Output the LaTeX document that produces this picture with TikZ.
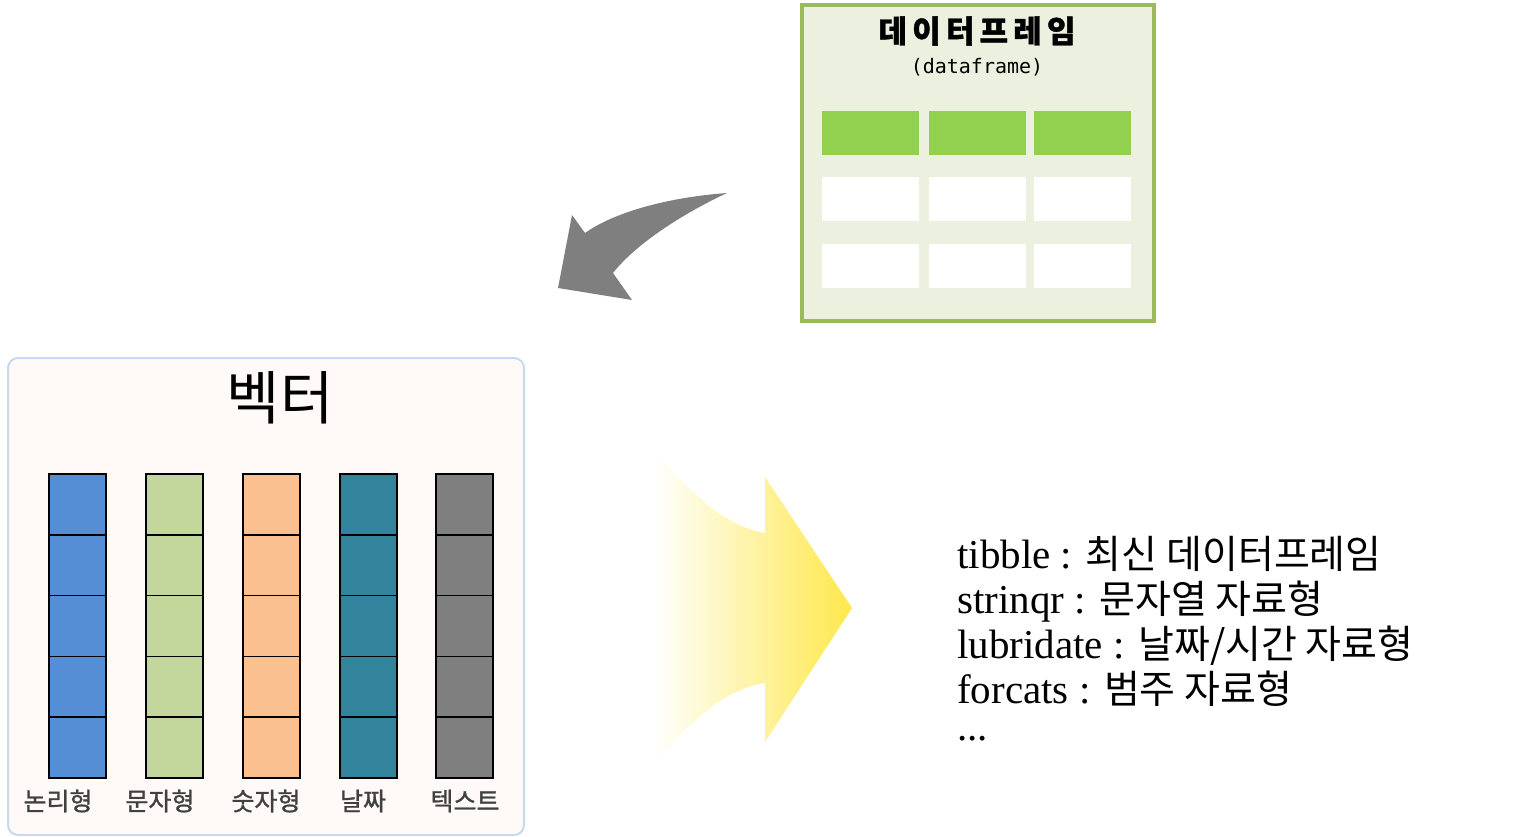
\documentclass[tikz,border=0pt]{standalone}
\usepackage{fontspec}
\setmainfont{Liberation Serif}
\newfontfamily\kr{Noto Sans CJK KR}
\newfontfamily\krb{Noto Sans CJK KR}[FakeBold=1.2]
\newfontfamily\mono{DejaVu Sans Mono}
\definecolor{dfborder}{HTML}{9BBB59}
\definecolor{dffill}{HTML}{EBF1DE}
\definecolor{dfhead}{HTML}{92D050}
\definecolor{vecborder}{HTML}{C6D9F1}
\definecolor{vecfill}{HTML}{FFFAF7}
\definecolor{cblue}{HTML}{558ED5}
\definecolor{cgreen}{HTML}{C3D69B}
\definecolor{corange}{HTML}{FAC090}
\definecolor{cteal}{HTML}{31849B}
\definecolor{cgray}{HTML}{7F7F7F}
\definecolor{lbl}{HTML}{404040}
\definecolor{yel}{HTML}{FFE84C}
\tikzset{
  cellbox/.style={draw=black, line width=1.5pt},
  lbltext/.style={font=\krb\fontsize{25}{28}\selectfont, text=lbl},
  infoline/.style={font=\fontsize{41}{45}\selectfont, anchor=base west, inner sep=0pt},
}
\newcommand{\K}[1]{{\kr\fontsize{39}{45}\selectfont #1}}
\begin{document}
\begin{tikzpicture}[x=1pt,y=-1pt]
\useasboundingbox (0,0) rectangle (1520,837);
% dataframe box
\node[draw=dfborder, line width=4pt, fill=dffill, minimum width=352pt, minimum height=316pt, inner sep=0pt] (df) at (978,163) {};
\node[font=\krb\bfseries\fontsize{31}{34}\selectfont] (dftitle) at (977,31) {데\,이\,터\,프\,레\,임};
\node[font=\mono\fontsize{20}{24}\selectfont] (dfsub) at (977,67) {(dataframe)};
\foreach \x/\n in {870.5/a,977/b,1082.5/c}{
  \fill[dfhead] (\x-48.5,111) rectangle (\x+48.5,155);
  \fill[white] (\x-48.5,177) rectangle (\x+48.5,221);
  \fill[white] (\x-48.5,244) rectangle (\x+48.5,288);
}
% curved gray arrow
\fill[cgray] (727,193) .. controls (660,198) and (610,215) .. (585,233)
  -- (572,215) -- (558,288) -- (632,300) -- (613,273)
  .. controls (635,245) and (680,215) .. (727,193) -- cycle;
% vector box
\node[draw=vecborder, line width=2pt, fill=vecfill, rounded corners=10pt, minimum width=516pt, minimum height=477pt, inner sep=0pt] (vec) at (266,596.5) {};
\node[font=\kr\fontsize{58}{62}\selectfont] (vectitle) at (280,398) {벡터};
\foreach \x/\c in {77.5/cblue,174.5/cgreen,271.5/corange,368.5/cteal,464.5/cgray}{
  \foreach \k in {0,...,4}{
    \draw[cellbox, fill=\c] (\x-28.5,474+\k*60.8) rectangle (\x+28.5,474+\k*60.8+60.8);
  }
}
\node[lbltext] (l1) at (58,801) {논리형};
\node[lbltext] (l2) at (160,801) {문자형};
\node[lbltext] (l3) at (266,801) {숫자형};
\node[lbltext] (l4) at (363,801) {날짜};
\node[lbltext] (l5) at (465,801) {텍스트};
% yellow arrow
\shade[left color=white, right color=yel, draw=none]
  (653,450) .. controls (690,490) and (720,525) .. (765,533)
  -- (765,477) -- (852,608) -- (765,742) -- (765,683)
  .. controls (720,690) and (690,725) .. (653,763) -- cycle;
% info text
\node[infoline] (i1) at (957,568) {tibble : \K{최신 데이터프레임}};
\node[infoline] (i2) at (957,613) {strinqr : \K{문자열 자료형}};
\node[infoline] (i3) at (957,658) {lubridate : \K{날짜/시간 자료형}};
\node[infoline] (i4) at (957,703) {forcats : \K{범주 자료형}};
\node[infoline] (i5) at (957,740) {...};
\end{tikzpicture}
\end{document}
